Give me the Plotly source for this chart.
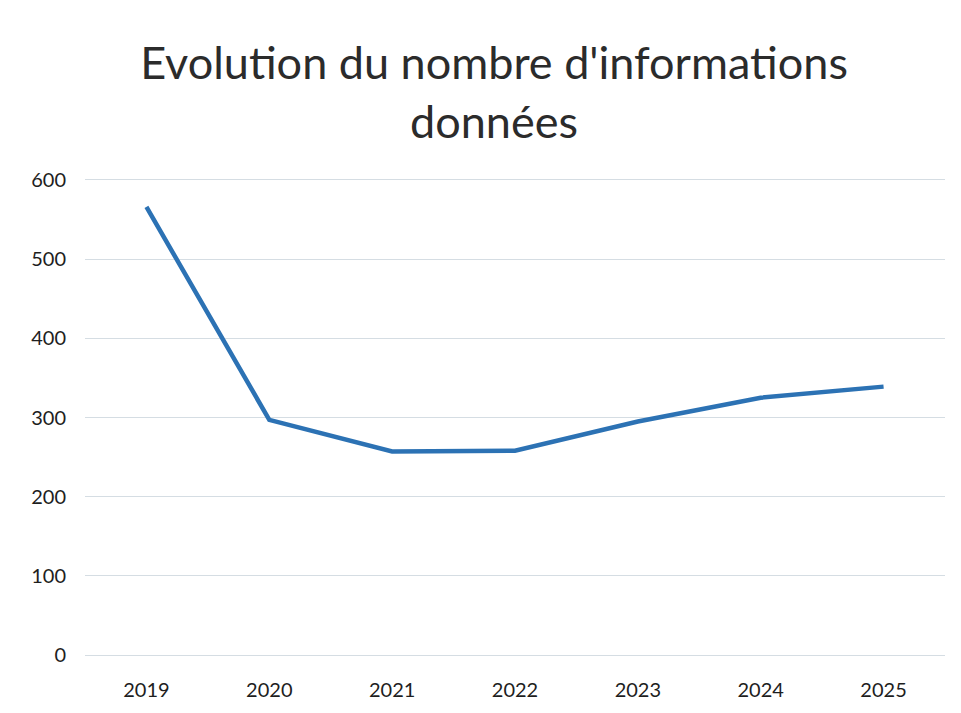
import plotly.graph_objects as go

years = ["2019", "2020", "2021", "2022", "2023", "2024", "2025"]
values = [566, 297, 257, 258, 295, 325, 339]
y_ticks = [0, 100, 200, 300, 400, 500, 600]

fig = go.Figure()
fig.add_trace(go.Scatter(
    x=years, y=values, mode="lines",
    line=dict(color="#2c72b4", width=4.5),
))

fig.update_layout(
    width=953, height=705,
    paper_bgcolor="white", plot_bgcolor="white",
    margin=dict(l=77, r=16, t=168, b=49),
    showlegend=False,
    title=dict(
        text="Evolution du nombre d'informations<br>données",
        x=0.51, xanchor="center", y=0.899, yanchor="top",
        font=dict(family="Lato", size=45, color="#2b2b2b"),
    ),
    font=dict(family="Lato", size=20, color="#1e1e1e"),
)
fig.update_xaxes(
    type="category", range=[-0.5, 6.5], showgrid=False, showline=False,
    ticks="", tickfont=dict(size=20), ticklabelstandoff=17,
)
fig.update_yaxes(
    range=[-5, 605], tickvals=y_ticks, showgrid=True, gridcolor="#d5dde3",
    gridwidth=1.3, zeroline=False, showline=False, ticks="",
    tickfont=dict(size=20), ticklabelstandoff=18,
)

fig.write_html("out.html")
